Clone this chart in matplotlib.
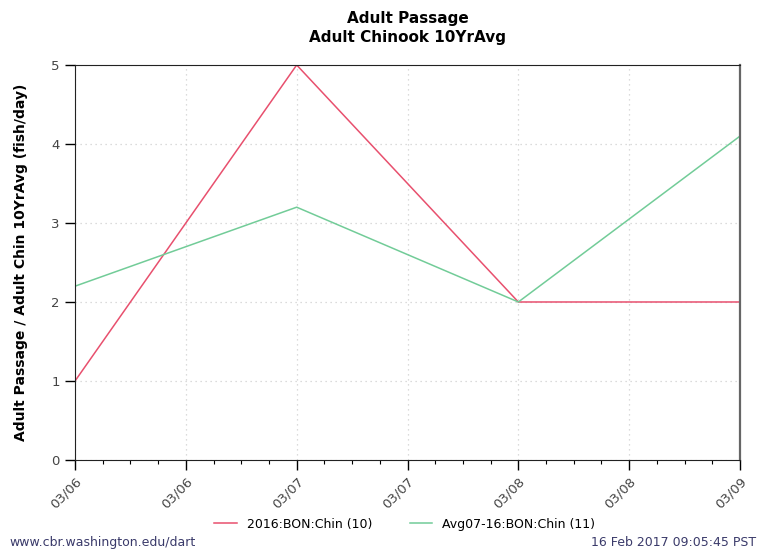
import matplotlib
matplotlib.use('Agg')
import matplotlib.pyplot as plt
import matplotlib.dates as mdates
from datetime import datetime

# data
dates = ['2016-03-06', '2016-03-07', '2016-03-08', '2016-03-09']
chin_2016 = [1, 5, 2, 2]
chin_avg = [2.2, 3.2, 2.0, 4.1]
labels = ['2016:BON:Chin (10)', 'Avg07-16:BON:Chin (11)']

x = [datetime.strptime(d, '%Y-%m-%d') for d in dates]

fig = plt.figure(figsize=(7.64, 5.56), dpi=100)
ax = fig.add_axes([0.0982, 0.1727, 0.8704, 0.7104])

ax.plot(x, chin_2016, color='#e8506e', lw=1.1, label=labels[0])
ax.plot(x, chin_avg, color='#72cc98', lw=1.1, label=labels[1])

ax.set_xlim(x[0], x[-1])
ax.set_ylim(0, 5)
ax.set_yticks([0, 1, 2, 3, 4, 5])

ax.xaxis.set_major_locator(mdates.HourLocator(byhour=[0, 12]))
ax.xaxis.set_minor_locator(mdates.HourLocator(interval=3))
ax.xaxis.set_major_formatter(mdates.DateFormatter('%m/%d'))
plt.setp(ax.get_xticklabels(), rotation=45, ha='right', rotation_mode='anchor')

ax.tick_params(axis='both', which='major', direction='out', length=7, width=1,
               labelsize=9.5, labelcolor='#444444', pad=4)
ax.tick_params(axis='x', which='minor', direction='out', length=3, width=0.8)
ax.grid(True, which='major', color='#d0d0d0', linestyle=(0, (1, 3)), lw=0.9)

for s in ['left', 'bottom', 'top']:
    ax.spines[s].set_color('#222222')
ax.spines['right'].set_color('#666666')
ax.spines['right'].set_linewidth(1.6)

ax.set_ylabel('Adult Passage / Adult Chin 10YrAvg (fish/day)', fontsize=10,
              fontweight='bold', labelpad=17)

fig.text(0.534, 0.967, 'Adult Passage', ha='center', va='center',
         fontsize=11, fontweight='bold')
fig.text(0.534, 0.932, 'Adult Chinook 10YrAvg', ha='center', va='center',
         fontsize=11, fontweight='bold')

fig.legend(loc='center', bbox_to_anchor=(0.53, 0.057), ncol=2, frameon=False,
           fontsize=9, handlelength=1.8, columnspacing=3)

fig.text(0.013, 0.013, 'www.cbr.washington.edu/dart', fontsize=9,
         color='#3a3a6a', ha='left', va='bottom')
fig.text(0.99, 0.013, '16 Feb 2017 09:05:45 PST', fontsize=9,
         color='#3a3a6a', ha='right', va='bottom')

fig.savefig('out.png', dpi=100)
